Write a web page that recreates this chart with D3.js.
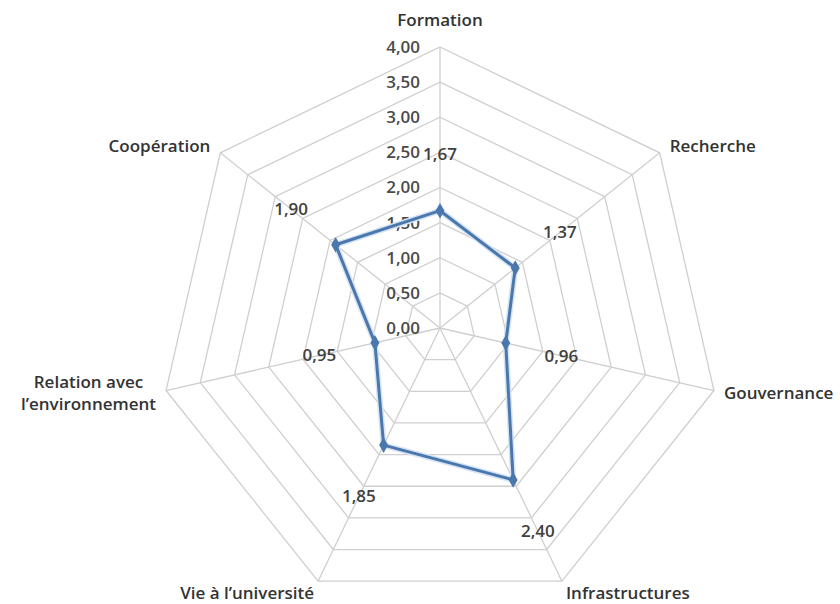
<!DOCTYPE html>
<html>
<head>
<meta charset="utf-8">
<script src="https://cdn.jsdelivr.net/npm/d3@7"></script>
<style>
  html, body { margin: 0; padding: 0; background: #ffffff; }
  svg { display: block; }
  text { font-family: "Open Sans", Lato, "Liberation Sans", sans-serif; fill: #3a3a3a; }
</style>
</head>
<body>
<svg id="chart" width="840" height="604"></svg>
<script>
// Radar chart: scores per domain on a 0–4 scale
const categories = [
  "Formation",
  "Recherche",
  "Gouvernance",
  "Infrastructures",
  "Vie à l’université",
  ["Relation avec", "l’environnement"],
  "Coopération"
];
const values = [1.67, 1.37, 0.96, 2.40, 1.85, 0.95, 1.90];
const valueLabels = ["1,67", "1,37", "0,96", "2,40", "1,85", "0,95", "1,90"];
const tickValues = [0, 0.5, 1, 1.5, 2, 2.5, 3, 3.5, 4];
const tickLabels = ["0,00", "0,50", "1,00", "1,50", "2,00", "2,50", "3,00", "3,50", "4,00"];

const W = 840, H = 604;
const cx = 440, cy = 328, R = 281;
const n = categories.length;
const fontSize = "17px";

const svg = d3.select("#chart");
const g = svg.append("g").attr("transform", `translate(${cx},${cy})`);

const r = d3.scaleLinear().domain([0, 4]).range([0, R]);
const angle = d3.scalePoint().domain(d3.range(n)).range([0, 2 * Math.PI * (n - 1) / n]);

const px = (i, v) => r(v) * Math.sin(angle(i));
const py = (i, v) => -r(v) * Math.cos(angle(i));

// Grid rings (heptagons)
const ring = d3.lineRadial()
  .angle(d => angle(d.i))
  .radius(d => r(d.v))
  .curve(d3.curveLinearClosed);

g.append("g").selectAll("path")
  .data(tickValues.filter(t => t > 0))
  .join("path")
  .attr("d", t => ring(d3.range(n).map(i => ({ i, v: t }))))
  .attr("fill", "none")
  .attr("stroke", "#cfcfcf")
  .attr("stroke-width", 1.3);

// Spokes
g.append("g").selectAll("line")
  .data(d3.range(n))
  .join("line")
  .attr("x1", 0).attr("y1", 0)
  .attr("x2", i => px(i, 4))
  .attr("y2", i => py(i, 4))
  .attr("stroke", "#cfcfcf")
  .attr("stroke-width", 1.3);

// Tick labels along the top spoke
g.append("g").selectAll("text")
  .data(tickValues)
  .join("text")
  .attr("x", -20)
  .attr("y", t => -r(t))
  .attr("dy", "0.35em")
  .attr("text-anchor", "end")
  .style("font-size", fontSize)
  .style("font-weight", 600)
  .style("fill", "#4a4a4a")
  .text((t, k) => tickLabels[k]);

// Data series
const series = d3.lineRadial()
  .angle((d, i) => angle(i))
  .radius(d => r(d))
  .curve(d3.curveLinearClosed);

g.append("path")
  .datum(values)
  .attr("d", series)
  .attr("fill", "none")
  .attr("stroke", "#d6e4f3")
  .attr("stroke-width", 6)
  .attr("stroke-linejoin", "round");

g.append("path")
  .datum(values)
  .attr("d", series)
  .attr("fill", "none")
  .attr("stroke", "#4a78ae")
  .attr("stroke-width", 3)
  .attr("stroke-linejoin", "round");

// Diamond markers
g.append("g").selectAll("path")
  .data(values)
  .join("path")
  .attr("d", d3.symbol().type(d3.symbolDiamond).size(70))
  .attr("transform", (v, i) => `translate(${px(i, v)},${py(i, v)})`)
  .attr("fill", "#4a78ae");

// Value labels, placed outward along each spoke
const labelGap = 57;
g.append("g").selectAll("text")
  .data(values)
  .join("text")
  .attr("x", (v, i) => (r(v) + labelGap) * Math.sin(angle(i)))
  .attr("y", (v, i) => -(r(v) + labelGap) * Math.cos(angle(i)))
  .attr("dy", "0.35em")
  .attr("text-anchor", "middle")
  .style("font-size", fontSize)
  .style("font-weight", 600)
  .style("fill", "#404040")
  .text((v, i) => valueLabels[i]);

// Category labels around the outer ring
const catG = g.append("g");
categories.forEach((c, i) => {
  const a = angle(i);
  const s = Math.sin(a), co = Math.cos(a);
  const x0 = px(i, 4), y0 = py(i, 4);
  const lines = Array.isArray(c) ? c : [c];
  let x = x0, y = y0, anchor = "middle";
  if (Math.abs(s) < 0.1) {
    y = y0 - 27;
  } else if (co < -0.5) {
    anchor = s > 0 ? "start" : "end";
    x = x0 + (s > 0 ? 4 : -4);
    y = y0 + 12;
  } else {
    anchor = s > 0 ? "start" : "end";
    x = x0 + (s > 0 ? 10 : -10);
    y = y0 + (co > 0 ? -7 : 3);
  }
  const t = catG.append("text")
    .attr("text-anchor", anchor)
    .style("font-size", fontSize)
    .style("font-weight", 600)
    .style("fill", "#333333");
  const lh = 22;
  lines.forEach((ln, k) => {
    t.append("tspan")
      .attr("x", x)
      .attr("y", y + (k - (lines.length - 1) / 2) * lh)
      .attr("dy", "0.35em")
      .text(ln);
  });
  // Multi-line labels: centre the lines within the block
  if (lines.length > 1) {
    const spans = t.selectAll("tspan").nodes();
    const widths = spans.map(sp => sp.getComputedTextLength());
    const wMax = d3.max(widths);
    const mid = anchor === "end" ? x - wMax / 2 : anchor === "start" ? x + wMax / 2 : x;
    t.attr("text-anchor", "middle");
    t.selectAll("tspan").attr("x", mid);
  }
});
</script>
</body>
</html>
